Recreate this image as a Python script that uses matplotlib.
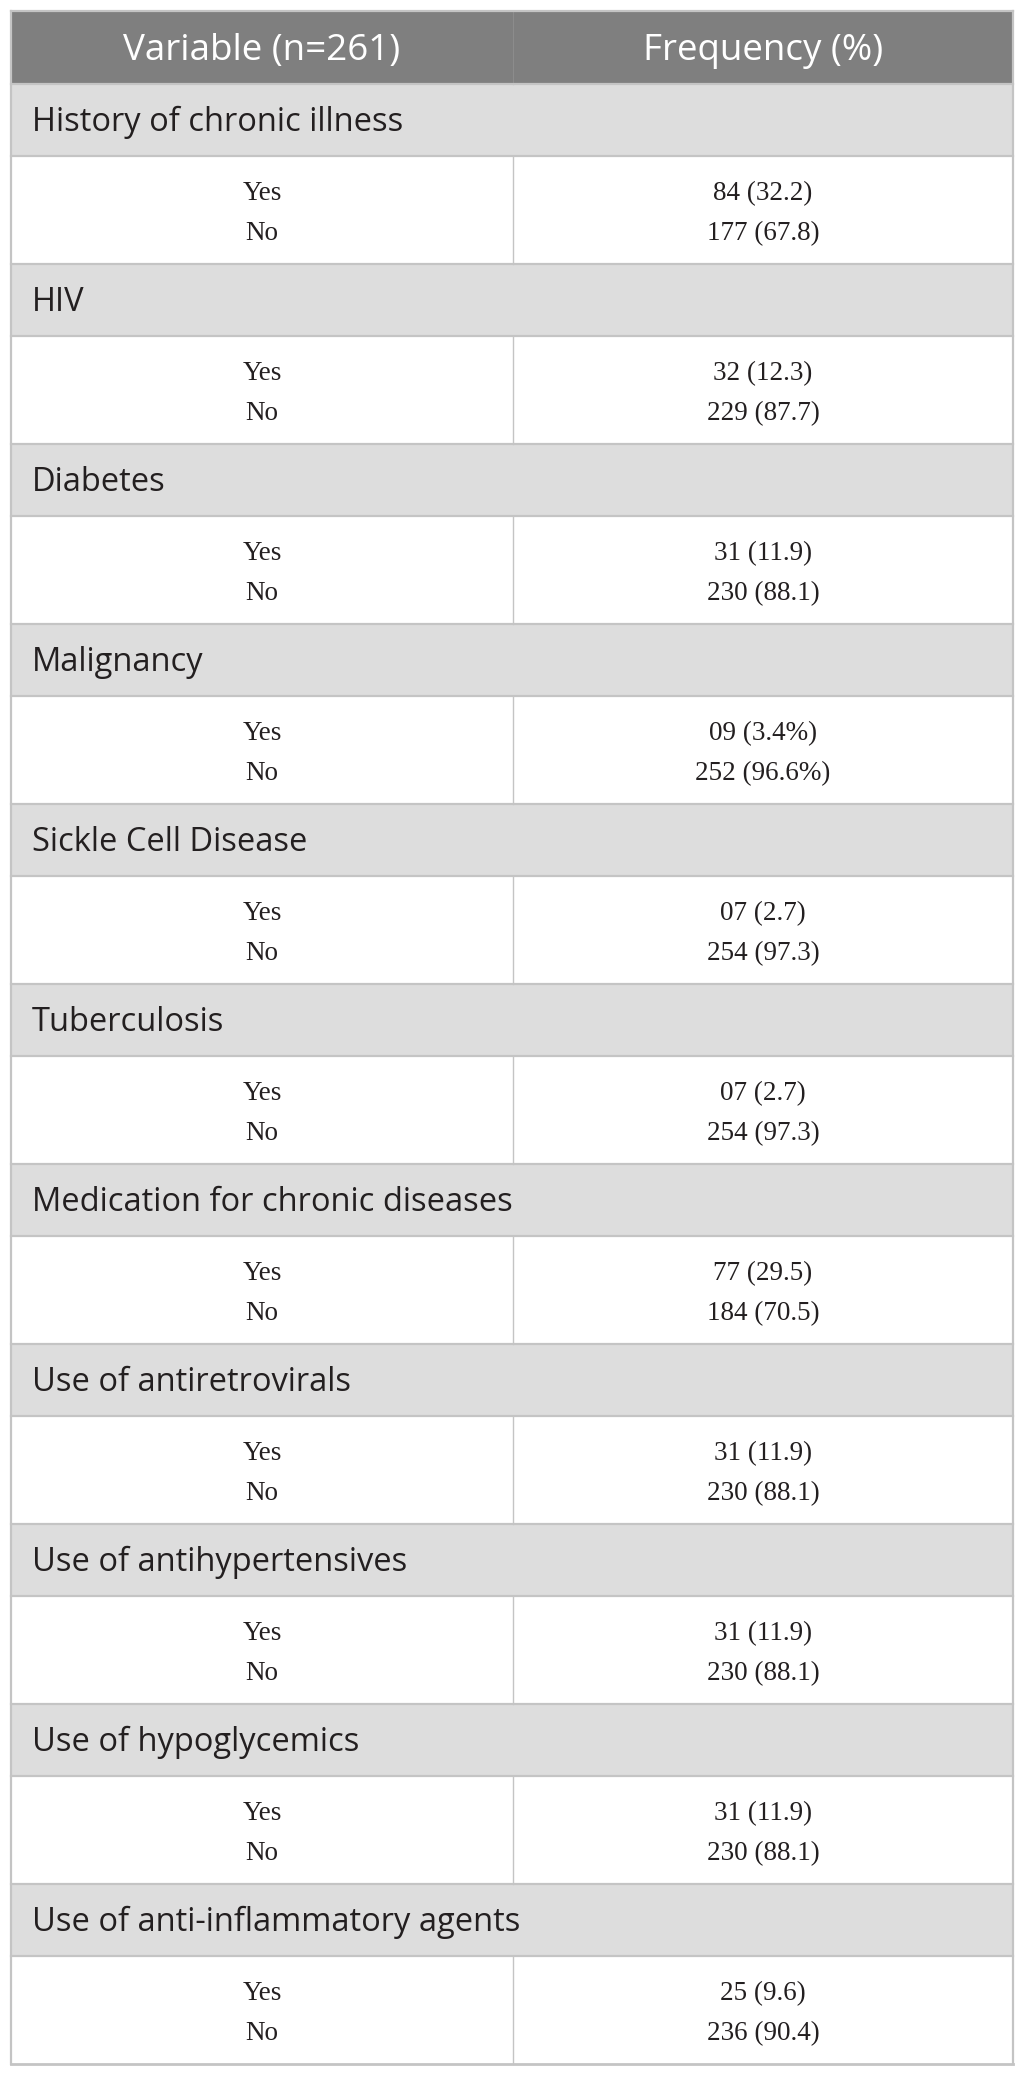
import matplotlib.pyplot as plt
from matplotlib.patches import Rectangle

# table content
HEADERS = ["Variable (n=261)", "Frequency (%)"]
CATEGORIES = [
    "History of chronic illness",
    "HIV",
    "Diabetes",
    "Malignancy",
    "Sickle Cell Disease",
    "Tuberculosis",
    "Medication for chronic diseases",
    "Use of antiretrovirals",
    "Use of antihypertensives",
    "Use of hypoglycemics",
    "Use of anti-inflammatory agents",
]
LEVELS = ["Yes", "No"]
YES_VALUES = ["84 (32.2)", "32 (12.3)", "31 (11.9)", "09 (3.4%)", "07 (2.7)", "07 (2.7)",
              "77 (29.5)", "31 (11.9)", "31 (11.9)", "31 (11.9)", "25 (9.6)"]
NO_VALUES = ["177 (67.8)", "229 (87.7)", "230 (88.1)", "252 (96.6%)", "254 (97.3)", "254 (97.3)",
             "184 (70.5)", "230 (88.1)", "230 (88.1)", "230 (88.1)", "236 (90.4)"]

W, H = 1025, 2076
LEFT, RIGHT, MID = 11, 1013, 513
TOP = 11
HEAD_H, CAT_H, DATA_H = 73, 72, 108

HEAD_BG = "#7f7f7f"
CAT_BG = "#dddddd"
LINE = "#c4c4c4"
TEXT = "#231f20"

SANS = ["Open Sans", "DejaVu Sans"]
SERIF = ["Liberation Serif", "DejaVu Serif"]


def main():
    fig = plt.figure(figsize=(W / 100, H / 100), dpi=100)
    ax = fig.add_axes([0, 0, 1, 1])
    ax.set_xlim(0, W)
    ax.set_ylim(H, 0)
    ax.axis("off")

    width = RIGHT - LEFT
    left_c = (LEFT + MID) / 2
    right_c = (MID + RIGHT) / 2

    # header
    ax.add_patch(Rectangle((LEFT, TOP), width, HEAD_H, facecolor=HEAD_BG, edgecolor="none"))
    ax.plot([MID, MID], [TOP, TOP + HEAD_H], color="#8c8c8c", lw=0.8)
    for x, label in zip([left_c, right_c], HEADERS):
        ax.text(x, TOP + 49, label, ha="center", va="baseline", color="white",
                fontsize=26.5, family=SANS)

    y = TOP + HEAD_H
    for cat, yes, no in zip(CATEGORIES, YES_VALUES, NO_VALUES):
        ax.add_patch(Rectangle((LEFT, y), width, CAT_H, facecolor=CAT_BG, edgecolor="none"))
        ax.text(LEFT + 21, y + 47, cat, ha="left", va="baseline", color=TEXT,
                fontsize=23.5, family=SANS)
        ax.plot([LEFT, RIGHT], [y, y], color=LINE, lw=1.6)
        y += CAT_H
        ax.plot([LEFT, RIGHT], [y, y], color=LINE, lw=1.6)
        ax.plot([MID, MID], [y, y + DATA_H], color=LINE, lw=1.0)
        for i, (lev, val) in enumerate(zip(LEVELS, [yes, no])):
            base = y + 44 + i * 40
            ax.text(left_c, base, lev, ha="center", va="baseline", color=TEXT,
                    fontsize=19.5, family=SERIF)
            ax.text(right_c, base, val, ha="center", va="baseline", color=TEXT,
                    fontsize=19.5, family=SERIF)
        y += DATA_H

    # outer border
    ax.plot([LEFT, RIGHT], [y, y], color=LINE, lw=2.0)
    ax.plot([LEFT, LEFT], [TOP, y], color=LINE, lw=1.6)
    ax.plot([RIGHT, RIGHT], [TOP, y], color=LINE, lw=1.6)
    ax.plot([LEFT, RIGHT], [TOP, TOP], color=LINE, lw=1.6)

    fig.savefig("out.png", dpi=100, facecolor="white")
    plt.close(fig)


if __name__ == "__main__":
    main()
